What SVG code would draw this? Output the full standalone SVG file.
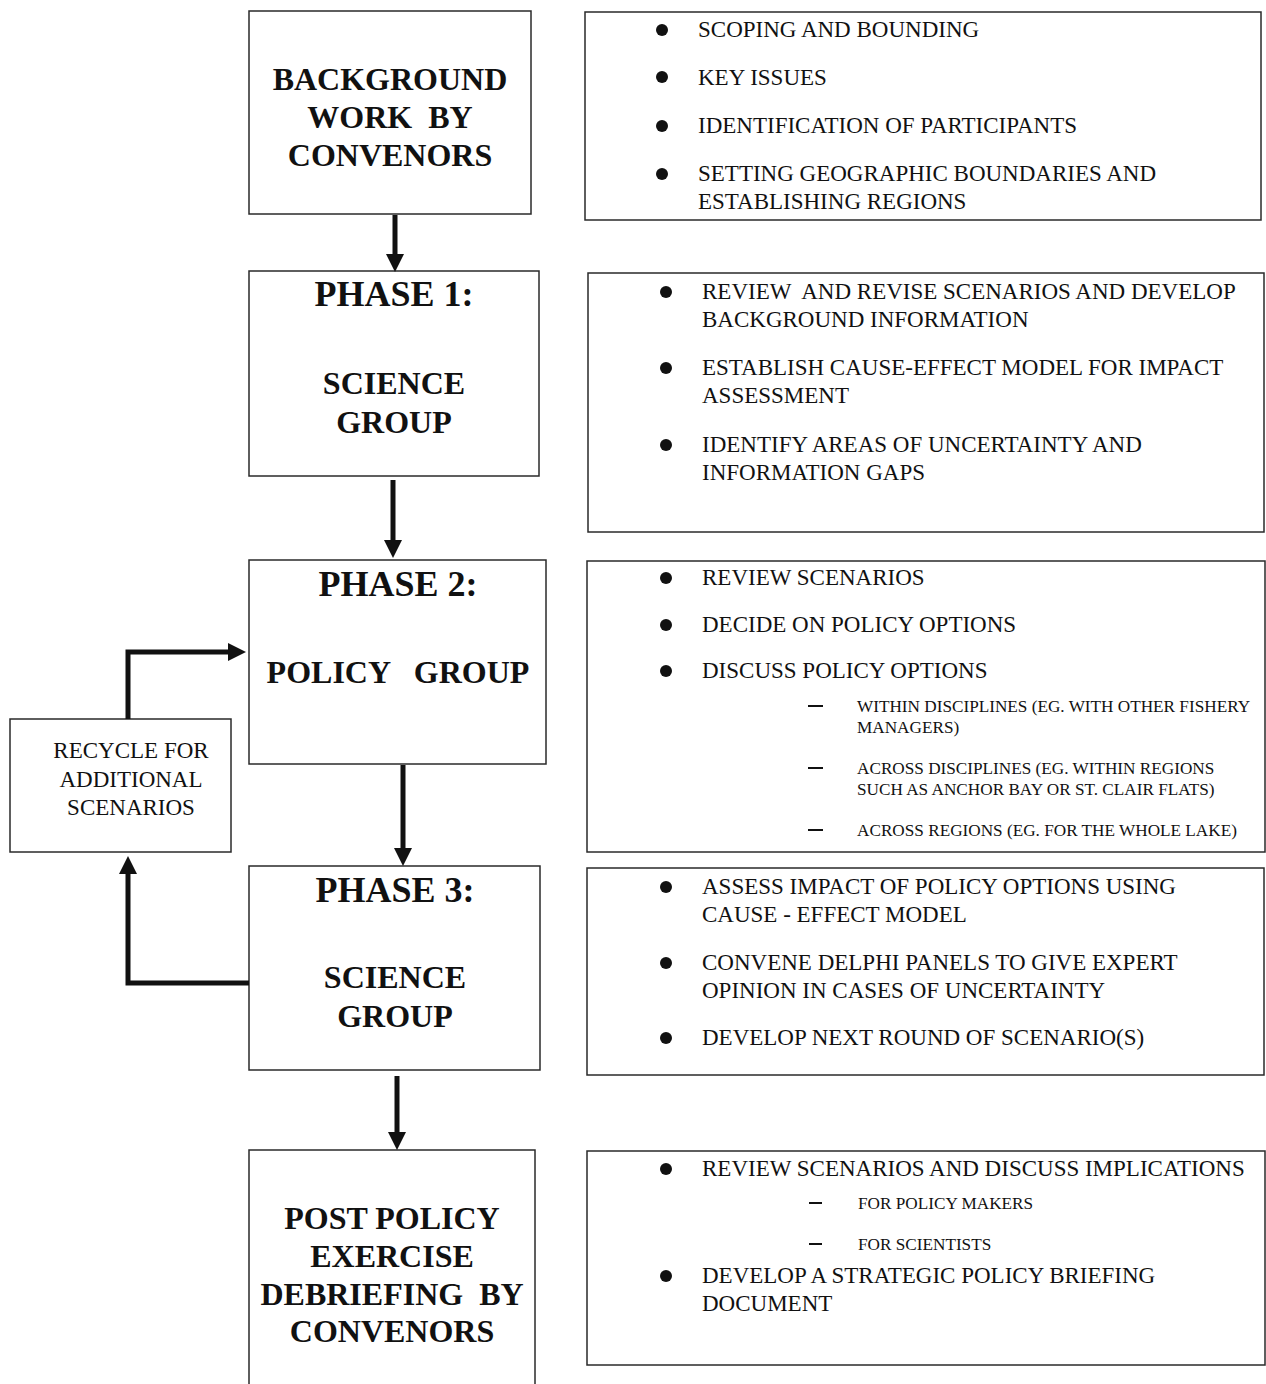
<svg xmlns="http://www.w3.org/2000/svg" width="1266" height="1384" viewBox="0 0 1266 1384">
<defs>
<style>
.box{fill:#fff;stroke:#2a2a2a;stroke-width:1.5}
.t{font-family:"Liberation Serif","Times New Roman",serif;font-weight:bold;font-size:32px;fill:#111;text-anchor:middle}
.ph{font-size:36px}
.r{font-family:"Liberation Serif","Times New Roman",serif;font-size:23px;fill:#111}
.s{font-family:"Liberation Serif","Times New Roman",serif;font-size:17.2px;fill:#111}
.rc{font-family:"Liberation Serif","Times New Roman",serif;font-size:23px;fill:#111;text-anchor:middle}
.con{fill:none;stroke:#111;stroke-width:5}
.dash{stroke:#111;stroke-width:2}
</style>
<marker id="ah" markerUnits="userSpaceOnUse" markerWidth="18" markerHeight="18" viewBox="0 0 18 18" refX="5" refY="9" orient="auto">
<path d="M0,0 L18,9 L0,18 z" fill="#111"/>
</marker>
</defs>
<rect width="1266" height="1384" fill="#fff"/>

<g id="background">
<rect class="box" x="249" y="11" width="282" height="203"/>
<text class="t" x="390" y="90">BACKGROUND</text>
<text class="t" x="390" y="128" xml:space="preserve">WORK  BY</text>
<text class="t" x="390" y="166">CONVENORS</text>
</g>
<g id="background-notes">
<rect class="box" x="585" y="12" width="676" height="208"/>
<circle cx="662" cy="30" r="6" fill="#111"/>
<text class="r" x="698" y="37">SCOPING AND BOUNDING</text>
<circle cx="662" cy="77" r="6" fill="#111"/>
<text class="r" x="698" y="85">KEY ISSUES</text>
<circle cx="662" cy="126" r="6" fill="#111"/>
<text class="r" x="698" y="133">IDENTIFICATION OF PARTICIPANTS</text>
<circle cx="662" cy="174" r="6" fill="#111"/>
<text class="r" x="698" y="181">SETTING GEOGRAPHIC BOUNDARIES AND</text>
<text class="r" x="698" y="209">ESTABLISHING REGIONS</text>
</g>

<g id="phase1">
<rect class="box" x="249" y="271" width="290" height="205"/>
<text class="t ph" x="394" y="306">PHASE 1:</text>
<text class="t" x="394" y="394">SCIENCE</text>
<text class="t" x="394" y="433">GROUP</text>
</g>
<g id="phase1-notes">
<rect class="box" x="588" y="273" width="676" height="259"/>
<circle cx="666" cy="292" r="6" fill="#111"/>
<text class="r" x="702" y="299" xml:space="preserve">REVIEW  AND REVISE SCENARIOS AND DEVELOP</text>
<text class="r" x="702" y="327">BACKGROUND INFORMATION</text>
<circle cx="666" cy="368" r="6" fill="#111"/>
<text class="r" x="702" y="375">ESTABLISH CAUSE-EFFECT MODEL FOR IMPACT</text>
<text class="r" x="702" y="403">ASSESSMENT</text>
<circle cx="666" cy="445" r="6" fill="#111"/>
<text class="r" x="702" y="452">IDENTIFY AREAS OF UNCERTAINTY AND</text>
<text class="r" x="702" y="480">INFORMATION GAPS</text>
</g>

<g id="phase2">
<rect class="box" x="249" y="560" width="297" height="204"/>
<text class="t ph" x="398" y="596">PHASE 2:</text>
<text class="t" x="398" y="683" xml:space="preserve">POLICY   GROUP</text>
</g>
<g id="phase2-notes">
<rect class="box" x="587" y="561" width="678" height="291"/>
<circle cx="666" cy="578" r="6" fill="#111"/>
<text class="r" x="702" y="585">REVIEW SCENARIOS</text>
<circle cx="666" cy="625" r="6" fill="#111"/>
<text class="r" x="702" y="632">DECIDE ON POLICY OPTIONS</text>
<circle cx="666" cy="671" r="6" fill="#111"/>
<text class="r" x="702" y="678">DISCUSS POLICY OPTIONS</text>
<line class="dash" x1="808" y1="706" x2="823" y2="706"/>
<text class="s" x="857" y="712">WITHIN DISCIPLINES (EG. WITH OTHER FISHERY</text>
<text class="s" x="857" y="733">MANAGERS)</text>
<line class="dash" x1="808" y1="768" x2="823" y2="768"/>
<text class="s" x="857" y="774">ACROSS DISCIPLINES (EG. WITHIN REGIONS</text>
<text class="s" x="857" y="795">SUCH AS ANCHOR BAY OR ST. CLAIR FLATS)</text>
<line class="dash" x1="808" y1="830" x2="823" y2="830"/>
<text class="s" x="857" y="836">ACROSS REGIONS (EG. FOR THE WHOLE LAKE)</text>
</g>

<g id="recycle">
<rect class="box" x="10" y="719" width="221" height="133"/>
<text class="rc" x="131" y="758">RECYCLE FOR</text>
<text class="rc" x="131" y="787">ADDITIONAL</text>
<text class="rc" x="131" y="815">SCENARIOS</text>
</g>

<g id="phase3">
<rect class="box" x="249" y="866" width="291" height="204"/>
<text class="t ph" x="395" y="902">PHASE 3:</text>
<text class="t" x="395" y="988">SCIENCE</text>
<text class="t" x="395" y="1027">GROUP</text>
</g>
<g id="phase3-notes">
<rect class="box" x="587" y="868" width="677" height="207"/>
<circle cx="666" cy="887" r="6" fill="#111"/>
<text class="r" x="702" y="894">ASSESS IMPACT OF POLICY OPTIONS USING</text>
<text class="r" x="702" y="922">CAUSE - EFFECT MODEL</text>
<circle cx="666" cy="963" r="6" fill="#111"/>
<text class="r" x="702" y="970">CONVENE DELPHI PANELS TO GIVE EXPERT</text>
<text class="r" x="702" y="998">OPINION IN CASES OF UNCERTAINTY</text>
<circle cx="666" cy="1038" r="6" fill="#111"/>
<text class="r" x="702" y="1045">DEVELOP NEXT ROUND OF SCENARIO(S)</text>
</g>

<g id="post">
<rect class="box" x="249" y="1150" width="286" height="245"/>
<text class="t" x="392" y="1229">POST POLICY</text>
<text class="t" x="392" y="1267">EXERCISE</text>
<text class="t" x="392" y="1305" xml:space="preserve">DEBRIEFING  BY</text>
<text class="t" x="392" y="1342">CONVENORS</text>
</g>
<g id="post-notes">
<rect class="box" x="587" y="1151" width="678" height="214"/>
<circle cx="666" cy="1169" r="6" fill="#111"/>
<text class="r" x="702" y="1176">REVIEW SCENARIOS AND DISCUSS IMPLICATIONS</text>
<line class="dash" x1="809" y1="1203" x2="822" y2="1203"/>
<text class="s" x="858" y="1209">FOR POLICY MAKERS</text>
<line class="dash" x1="809" y1="1244" x2="822" y2="1244"/>
<text class="s" x="858" y="1250">FOR SCIENTISTS</text>
<circle cx="666" cy="1276" r="6" fill="#111"/>
<text class="r" x="702" y="1283">DEVELOP A STRATEGIC POLICY BRIEFING</text>
<text class="r" x="702" y="1311">DOCUMENT</text>
</g>

<g id="connectors">
<line class="con" x1="395" y1="215" x2="395" y2="259" marker-end="url(#ah)"/>
<line class="con" x1="393" y1="480" x2="393" y2="545" marker-end="url(#ah)"/>
<line class="con" x1="403" y1="765" x2="403" y2="853" marker-end="url(#ah)"/>
<line class="con" x1="397" y1="1076" x2="397" y2="1137" marker-end="url(#ah)"/>
<polyline class="con" points="128,719 128,652 233,652" marker-end="url(#ah)"/>
<polyline class="con" points="249,983 128,983 128,869" marker-end="url(#ah)"/>
</g>
</svg>
